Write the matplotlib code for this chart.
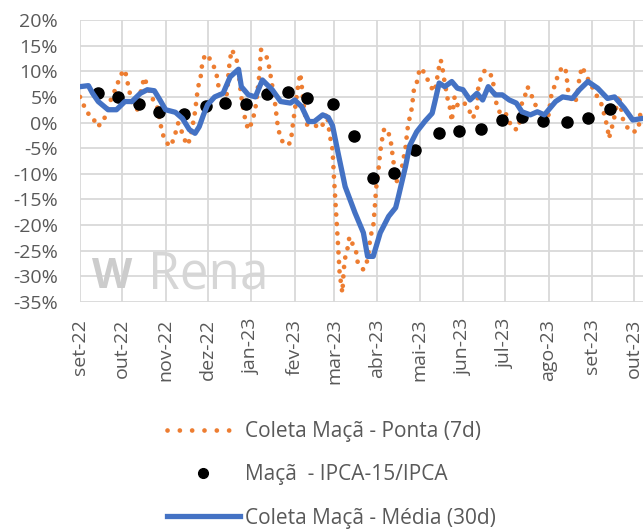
import numpy as np
import pandas as pd
import matplotlib
matplotlib.use('Agg')
import matplotlib.pyplot as plt
from matplotlib.lines import Line2D

plt.rcParams['font.family'] = ['Open Sans', 'DejaVu Sans']

inicio = pd.Timestamp('2022-09-01')

# Coleta Maca - Ponta (7d): dias desde 01/09/2022 e variacao (%)
ponta_dias = [0, 2, 5, 9, 12, 16, 19, 21, 26, 29, 32, 34, 37, 41, 44, 46, 48, 51, 55, 58,
              60, 64, 66, 68, 70, 72, 75, 77, 80, 82, 84, 86, 87, 89, 91, 94, 96, 98, 99, 102,
              105, 106, 108, 109, 112, 113, 114, 115, 118, 120, 123, 125, 126, 127, 128, 129, 130, 133, 135, 139,
              141, 143, 146, 150, 151, 152, 153, 155, 157, 158, 160, 162, 167, 172, 176, 178, 180, 181, 182, 183,
              184, 185, 186, 187, 188, 189, 191, 192, 194, 197, 198, 202, 205, 207, 209, 210, 211, 212, 213, 214,
              216, 217, 220, 222, 223, 226, 228, 230, 232, 233, 234, 236, 237, 238, 240, 242, 244, 246, 248, 252,
              254, 255, 257, 258, 259, 262, 264, 265, 266, 267, 269, 273, 276, 279, 280, 283, 284, 287, 289, 294,
              295, 296, 297, 299, 301, 304, 308, 312, 314, 315, 317, 319, 321, 324, 326, 330, 334, 336, 339, 341,
              344, 346, 347, 348, 351, 353, 355, 356, 358, 360, 364, 368, 372, 374, 376, 377, 379, 381, 384, 387,
              391, 394, 398, 400]
ponta_val = [5.0, 3.8, 1.9, 1.2, -0.8, -0.1, 1.9, 3.8, 7.0, 9.3, 10.3, 7.7, 3.8, 2.5, 7.0, 8.8, 7.0, 5.0, 3.1, -1.1,
             -3.2, -4.7, -3.7, -2.1, -0.1, -1.4, -3.6, -4.4, -1.1, 2.1, 6.7, 8.9, 11.2, 13.2, 13.2, 11.6, 10.6, 8.6, 6.4, 2.8,
             6.0, 10.3, 14.2, 13.8, 11.9, 10.6, 7.3, 5.0, 0.2, -1.4, 0.3, 2.8, 4.7, 7.3, 9.6, 14.2, 13.8, 12.8, 10.6, 3.8,
             -0.8, -3.1, -4.4, -4.0, -2.1, 0.3, 2.1, 6.4, 9.6, 7.3, 2.1, -0.5, -0.5, -1.1, 1.8, -2.4, -5.3, -10.6, -15.1, -19.6,
             -24.2, -29.1, -31.3, -33.2, -28.7, -26.4, -24.2, -22.3, -23.5, -25.4, -27.4, -28.7, -26.8, -22.3, -20.3, -17.0, -13.1, -10.6, -8.6, -5.7,
             -2.1, -1.1, -2.1, -4.4, -7.0, -11.6, -11.2, -7.9, -5.0, -2.4, -0.1, 1.9, 4.0, 6.4, 7.7, 10.3, 10.6, 8.9, 8.3, 6.0,
             7.3, 9.6, 12.2, 11.5, 9.3, 4.7, 2.5, 0.2, 2.8, 5.0, 3.4, 4.1, 3.1, 1.5, 0.8, 2.8, 7.3, 9.6, 10.3, 8.9,
             6.7, 5.0, 3.4, 2.1, 2.5, 1.5, -1.1, -1.4, 0.8, 3.8, 5.0, 7.0, 5.7, 4.1, 2.1, 1.5, 1.5, 5.4, 7.7, 9.6,
             10.9, 10.6, 8.6, 6.0, 4.1, 3.8, 6.4, 8.9, 10.9, 9.6, 7.5, 5.4, 3.4, 1.2, -1.0, -3.1, -1.1, 1.2, 5.4, 0.7,
             -1.4, -1.9, -1.4, 3.1]

# Coleta Maca - Media (30d)
media_dias = [0, 6, 9, 13, 20, 26, 32, 37, 43, 48, 53, 57, 61, 68, 73, 78, 82, 85, 88, 91,
              96, 102, 107, 113, 115, 120, 125, 130, 137, 143, 150, 153, 158, 163, 167, 173, 177, 180, 184, 189,
              196, 202, 205, 209, 214, 220, 225, 227, 232, 235, 240, 246, 251, 253, 256, 260, 265, 269, 273, 278,
              283, 287, 291, 296, 301, 306, 311, 315, 321, 326, 331, 339, 344, 351, 356, 362, 369, 376, 381, 388,
              394, 401]
media_val = [7.0, 7.2, 5.7, 4.1, 2.5, 2.5, 4.1, 4.1, 5.7, 6.4, 6.2, 4.4, 2.5, 2.0, 0.8, -1.4, -2.1, -0.8, 1.5, 3.5,
             5.0, 5.7, 8.9, 10.4, 7.0, 5.4, 5.0, 8.3, 6.4, 4.1, 3.8, 4.4, 3.1, 0.2, 0.2, 1.5, 1.0, -0.6, -6.0, -12.5,
             -17.6, -21.5, -26.1, -26.1, -21.5, -18.3, -16.6, -14.4, -8.6, -4.5, -1.8, 0.3, 1.8, 4.1, 7.7, 7.0, 8.0, 6.7, 6.4, 4.4,
             5.7, 4.4, 7.0, 5.4, 5.4, 4.4, 3.8, 2.1, 1.5, 2.1, 1.5, 4.1, 5.0, 4.7, 6.4, 8.0, 6.7, 4.7, 5.0, 2.8,
             0.5, 0.8]

# Maca - IPCA-15/IPCA
ipca_datas = ['2022-09-14', '2022-09-28', '2022-10-13', '2022-10-27', '2022-11-14', '2022-11-30',
              '2022-12-13', '2022-12-28', '2023-01-12', '2023-01-27', '2023-02-10', '2023-02-28',
              '2023-03-15', '2023-03-29', '2023-04-13', '2023-04-28', '2023-05-15', '2023-05-29',
              '2023-06-14', '2023-06-29', '2023-07-13', '2023-07-28', '2023-08-14', '2023-08-29',
              '2023-09-14']
ipca_val = [5.7, 5.0, 3.7, 2.0, 1.6, 3.3, 3.8, 3.6, 5.5, 6.0, 4.7, 3.7,
            -2.7, -10.8, -9.8, -5.4, -2.0, -1.6, -1.2, 0.4, 1.0, 0.3, 0.2, 0.8, 2.6]

meses = ['set-22', 'out-22', 'nov-22', 'dez-22', 'jan-23', 'fev-23', 'mar-23',
         'abr-23', 'mai-23', 'jun-23', 'jul-23', 'ago-23', 'set-23', 'out-23']
y_ticks = [-35, -30, -25, -20, -15, -10, -5, 0, 5, 10, 15, 20]

laranja = '#ED7D31'
azul = '#4472C4'
cinza = '#595959'
pontilhado = (0, (0.01, 2.0))

ponta_x = inicio + pd.to_timedelta(ponta_dias, unit='D')
media_x = inicio + pd.to_timedelta(media_dias, unit='D')
ipca_x = pd.to_datetime(ipca_datas)
meses_x = pd.date_range('2022-09-01', periods=len(meses), freq='MS')

fig = plt.figure(figsize=(6.43, 5.29), dpi=100)
ax = fig.add_axes([80 / 643, 1 - 302 / 529, 1 - 80 / 643, (302 - 20) / 529])

ax.plot(ponta_x, ponta_val, color=laranja, lw=3.4, linestyle=pontilhado,
        dash_capstyle='round', zorder=3)
ax.plot(ipca_x, ipca_val, 'o', color='black', ms=8, zorder=4)
ax.plot(media_x, media_val, color=azul, lw=3.8, solid_joinstyle='round', zorder=5)

ax.set_xlim(inicio, inicio + pd.Timedelta(days=401.3))
ax.set_ylim(-35, 20)
ax.set_xticks(meses_x)
ax.set_xticklabels(meses, rotation=90, fontsize=14, color=cinza)
ax.set_yticks(y_ticks)
ax.set_yticklabels([f'{v}%' for v in y_ticks], fontsize=14, color=cinza)
ax.tick_params(axis='x', length=0, pad=12)
ax.tick_params(axis='y', length=0, pad=16)
ax.grid(True, color='#D9D9D9', lw=1.3)
ax.set_axisbelow(True)
for s in ax.spines.values():
    s.set_visible(False)

# marca d'agua
fig.text(92 / 643, 1 - 277 / 529, 'W', fontsize=30, fontweight='bold', color='#CCCCCC',
         va='center', ha='left', zorder=1)
fig.text(148 / 643, 1 - 275 / 529, 'Rena', fontsize=37, color='#D6D6D6',
         va='center', ha='left', zorder=1)

handles = [
    Line2D([], [], color=laranja, lw=3.4, linestyle=(0, (0.01, 2.6)), dash_capstyle='round'),
    Line2D([], [], color='black', marker='o', ms=7, linestyle='none'),
    Line2D([], [], color=azul, lw=3.8),
]
labels = ['Coleta Maçã - Ponta (7d)', 'Maçã  - IPCA-15/IPCA', 'Coleta Maçã - Média (30d)']
leg = fig.legend(handles, labels, loc='upper left', bbox_to_anchor=(167 / 643, 1 - 421 / 529),
                 frameon=False, fontsize=15, handlelength=3.5, handletextpad=0.25,
                 labelspacing=1.07, borderpad=0, borderaxespad=0)
for t in leg.get_texts():
    t.set_color(cinza)

fig.savefig('out.png', dpi=100)
